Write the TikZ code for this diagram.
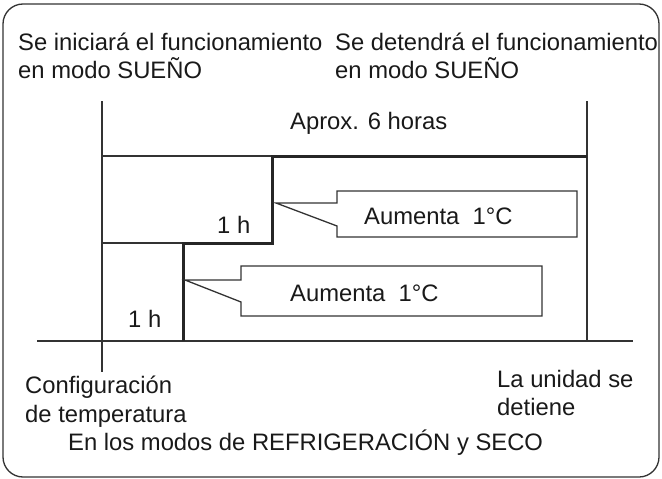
\documentclass[tikz,border=0pt]{standalone}
\usepackage{fontspec}
\setmainfont{Liberation Sans}
\usepackage{tikz}
\usetikzlibrary{positioning}

\tikzset{
  lbl/.style={anchor=base west, inner sep=0pt, text=black!90, font=\fontsize{23.8}{28}\selectfont},
  guide/.style={draw=black!80, line width=1.3pt},
  stepline/.style={draw=black!85, line width=3pt},
  callout/.style={draw=black!80, line width=1.3pt, line join=miter},
}

\begin{document}
\begin{tikzpicture}[x=1pt, y=-1pt]
\useasboundingbox (0,0) rectangle (662,479);
\draw[black!80, line width=1.3pt, rounded corners=20pt] (3,4) rectangle (659,477);
% time axis and markers
\coordinate (start) at (102,101);
\coordinate (startlow) at (102,372);
\coordinate (stop) at (587,101);
\coordinate (stoplow) at (587,341);
\coordinate (axisL) at (37,341);
\coordinate (axisR) at (633,341);
\draw[guide] (start) -- (startlow);
\draw[guide] (stop) -- (stoplow);
\draw[guide] (axisL) -- (axisR);
% set temperature levels
\coordinate (s0) at (183,341);
\coordinate (s1) at (183,243);
\coordinate (s2) at (272,243);
\coordinate (s3) at (272,156);
\coordinate (s4) at (587,156);
\draw[guide] (102,156) -- (s3);
\draw[guide] (102,243) -- (s1);
\draw[stepline, line join=miter] (s0) -- (s1) -- (s2) -- (s3) -- (s4);
% callouts
\draw[callout] (276,203) -- (337,203) -- (337,191) -- (577,191) -- (577,237) -- (337,237) -- (337,226) -- cycle;
\draw[callout] (185,280) -- (241,280) -- (241,266) -- (542,266) -- (542,316) -- (241,316) -- (241,302) -- cycle;
\node[lbl] (up) at (364,224) {Aumenta\ \ 1°C};
\node[lbl] (low) at (290,301) {Aumenta\ \ 1°C};
\node[lbl] (h2) at (217,233) {1 h};
\node[lbl] (h1) at (128,327) {1 h};
\node[lbl] (dur) at (290,129) {Aprox. 6 horas};
% texts
\node[lbl] (beginA) at (18,50) {Se iniciará el funcionamiento};
\node[lbl] (beginB) at (18,78) {en modo SUEÑO};
\node[lbl] (endA) at (335,50) {Se detendrá el funcionamiento};
\node[lbl] (endB) at (335,78) {en modo SUEÑO};
\node[lbl] (confA) at (25,393) {Configuración};
\node[lbl] (confB) at (25,422) {de temperatura};
\node[lbl] (unitA) at (497,387) {La unidad se};
\node[lbl] (unitB) at (497,415) {detiene};
\node[lbl] (modes) at (68,450) {En los modos de REFRIGERACIÓN y SECO};
\end{tikzpicture}
\end{document}
